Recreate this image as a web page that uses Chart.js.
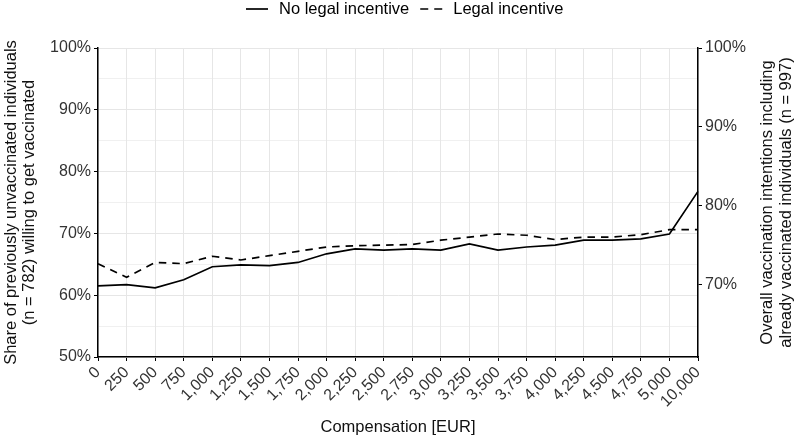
<!DOCTYPE html>
<html>
<head>
<meta charset="utf-8">
<script src="https://cdn.jsdelivr.net/npm/chart.js@4/dist/chart.umd.min.js"></script>
<style>
  html, body { margin: 0; padding: 0; background: #ffffff; }
  #wrap { width: 794px; height: 437px; position: relative; }
</style>
</head>
<body>
<div id="wrap"><canvas id="c" width="794" height="437"></canvas></div>
<script>
const categories = ['0','250','500','750','1,000','1,250','1,500','1,750','2,000','2,250','2,500','2,750','3,000','3,250','3,500','3,750','4,000','4,250','4,500','4,750','5,000','10,000'];
const noLegalIncentive = [61.5, 61.7, 61.2, 62.5, 64.6, 64.9, 64.8, 65.3, 66.7, 67.5, 67.3, 67.5, 67.3, 68.3, 67.3, 67.8, 68.1, 68.9, 68.9, 69.1, 69.9, 76.8];
const legalIncentive   = [65.1, 62.9, 65.3, 65.1, 66.3, 65.7, 66.4, 67.1, 67.8, 68.0, 68.1, 68.2, 68.9, 69.4, 69.9, 69.7, 69.0, 69.4, 69.4, 69.8, 70.6, 70.6];
const leftTicks = [50, 60, 70, 80, 90, 100];
const leftGridTicks = [50, 55, 60, 65, 70, 75, 80, 85, 90, 95, 100];
const rightTicks = [70, 80, 90, 100];
const seriesNames = ['No legal incentive', 'Legal incentive'];
const leftTitle = ['Share of previously unvaccinated individuals', '(n = 782) willing to get vaccinated'];
const rightTitle = ['Overall vaccination intentions including', 'already vaccinated individuals (n = 997)'];
// right axis: overall intentions = vaccinated share (215/997) + unvaccinated share (782/997) * left value
const nUnvacc = 782, nTotal = 997;
const rightMin = 100 * (nTotal - nUnvacc) / nTotal + 50 * nUnvacc / nTotal;
const rightMax = 100;

const FONT = "'Liberation Sans', Arial, Helvetica, sans-serif";
const TICK_COLOR = '#333333';
const GRID = '#e6e6e6';
const DASH = [7.5, 6];

const extrasPlugin = {
  id: 'extras',
  afterDraw(chart) {
    const ctx = chart.ctx;
    const ca = chart.chartArea;
    ctx.save();
    // legend
    ctx.font = '16.5px ' + FONT;
    ctx.fillStyle = '#000';
    ctx.strokeStyle = '#000';
    ctx.lineWidth = 1.7;
    ctx.textBaseline = 'middle';
    ctx.textAlign = 'left';
    const ly = 9;
    let x = 246;
    const dashes = [[], [8, 6]];
    seriesNames.forEach((name, i) => {
      ctx.setLineDash(dashes[i]);
      ctx.beginPath(); ctx.moveTo(x, ly); ctx.lineTo(x + 22, ly); ctx.stroke();
      ctx.setLineDash([]);
      x += 22 + 11;
      ctx.fillText(name, x, ly);
      x += ctx.measureText(name).width + 11;
    });
    // right axis title (reads bottom to top)
    const cy = (ca.top + ca.bottom) / 2;
    ctx.fillStyle = '#111';
    ctx.textAlign = 'center';
    const xs = [767, 786];
    rightTitle.forEach((t, i) => {
      ctx.save();
      ctx.translate(xs[i], cy);
      ctx.rotate(-Math.PI / 2);
      ctx.fillText(t, 0, 0);
      ctx.restore();
    });
    ctx.restore();
  }
};

new Chart(document.getElementById('c'), {
  type: 'line',
  data: {
    labels: categories,
    datasets: [
      { label: seriesNames[0], data: noLegalIncentive, borderColor: '#000', backgroundColor: '#000',
        borderWidth: 1.7, pointRadius: 0, tension: 0, yAxisID: 'y' },
      { label: seriesNames[1], data: legalIncentive, borderColor: '#000', backgroundColor: '#000',
        borderWidth: 1.7, borderDash: DASH, pointRadius: 0, tension: 0, yAxisID: 'y' }
    ]
  },
  plugins: [extrasPlugin],
  options: {
    responsive: false,
    animation: false,
    devicePixelRatio: 1,
    layout: { padding: { top: 48, left: 0, right: 0, bottom: 0 } },
    plugins: {
      legend: { display: false },
      tooltip: { enabled: false }
    },
    scales: {
      x: {
        type: 'category', offset: false,
        grid: { color: GRID, lineWidth: 1, tickColor: '#000', tickLength: 4 },
        border: { display: true, color: '#000', width: 1.5 },
        ticks: { autoSkip: false, maxRotation: 45, minRotation: 45, padding: 2, color: TICK_COLOR,
                 font: { family: FONT, size: 16 } },
        title: { display: true, text: 'Compensation [EUR]', color: '#111',
                 font: { family: FONT, size: 16.5 }, padding: { top: 2, bottom: 0 } },
        afterFit: s => { s.height = 80; }
      },
      y: {
        type: 'linear', position: 'left', min: 50, max: 100,
        afterBuildTicks: axis => { axis.ticks = leftGridTicks.map(v => ({ value: v })); },
        grid: {
          color: GRID,
          lineWidth: ctx => (ctx.tick && ctx.tick.value % 10 === 0) ? 1 : 0.6,
          tickColor: ctx => (ctx.tick && ctx.tick.value % 10 === 0) ? '#000' : 'rgba(0,0,0,0)',
          tickLength: 4
        },
        border: { display: true, color: '#000', width: 1.5 },
        ticks: { color: TICK_COLOR, font: { family: FONT, size: 16 }, padding: 3,
                 callback: v => (leftTicks.includes(v) ? v + '%' : '') },
        title: { display: true, text: leftTitle,
                 color: '#111', font: { family: FONT, size: 16.5, lineHeight: 1.12 }, padding: { top: 2, bottom: 2 } },
        afterFit: s => { s.width = 98; }
      },
      y2: {
        type: 'linear', position: 'right', min: rightMin, max: rightMax,
        afterBuildTicks: axis => { axis.ticks = rightTicks.map(v => ({ value: v })); },
        grid: { drawOnChartArea: false, tickColor: '#000', tickLength: 4 },
        border: { display: true, color: '#000', width: 1.5 },
        ticks: { color: TICK_COLOR, font: { family: FONT, size: 16 }, padding: 3,
                 callback: v => v + '%' },
        title: { display: false },
        afterFit: s => { s.width = 96; }
      }
    }
  }
});
</script>
</body>
</html>
